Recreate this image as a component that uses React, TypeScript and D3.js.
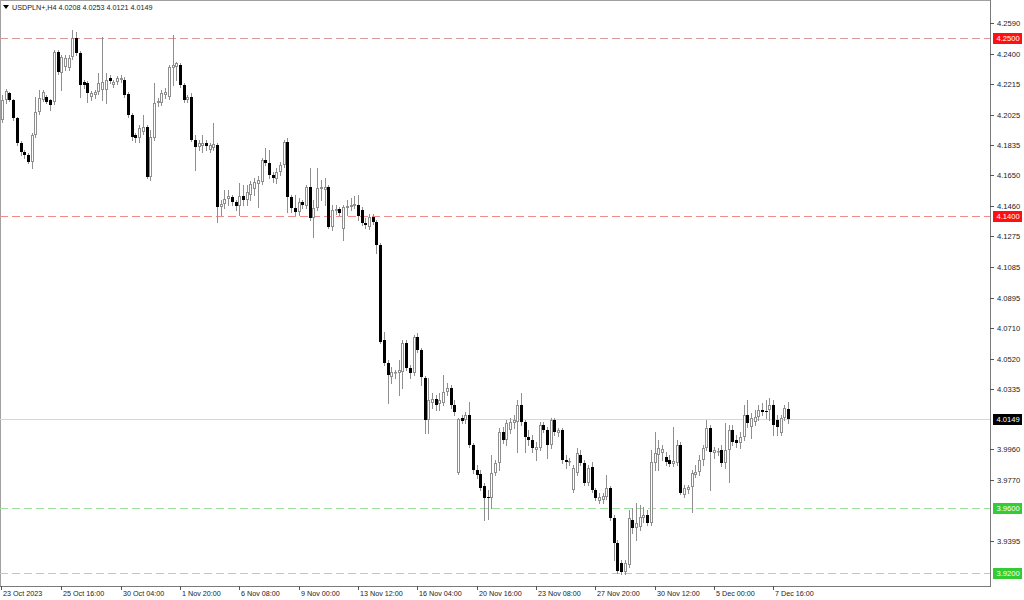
import React from "react";
import * as d3 from "d3";

const opens = [
  4.1992, 4.2115, 4.2158, 4.2115, 4.2004, 4.1850, 4.1794, 4.1776, 4.1733, 4.1899,
  4.2041, 4.2115, 4.2134, 4.2115, 4.2103, 4.2411, 4.2282, 4.2318, 4.2312, 4.2380,
  4.2497, 4.2405, 4.2226, 4.2220, 4.2134, 4.2146, 4.2164, 4.2177, 4.2177, 4.2251,
  4.2208, 4.2226, 4.2238, 4.2238, 4.2152, 4.2022, 4.1899, 4.1880, 4.1918, 4.1949,
  4.1640, 4.1880, 4.2096, 4.2096, 4.2146, 4.2134, 4.2312, 4.2318, 4.2331, 4.2208,
  4.2115, 4.2134, 4.1868, 4.1825, 4.1831, 4.1850, 4.1807, 4.1819, 4.1837, 4.1455,
  4.1473, 4.1504, 4.1517, 4.1486, 4.1461, 4.1523, 4.1498, 4.1529, 4.1566, 4.1597,
  4.1609, 4.1745, 4.1727, 4.1652, 4.1628, 4.1671, 4.1714, 4.1856, 4.1517, 4.1449,
  4.1424, 4.1486, 4.1461, 4.1578, 4.1387, 4.1449, 4.1566, 4.1560, 4.1578, 4.1331,
  4.1430, 4.1443, 4.1319, 4.1449, 4.1455, 4.1461, 4.1467, 4.1436, 4.1356, 4.1331,
  4.1393, 4.1362, 4.1220, 4.0635, 4.0492, 4.0406, 4.0431, 4.0431, 4.0437, 4.0616,
  4.0462, 4.0431, 4.0653, 4.0573, 4.0400, 4.0141, 4.0245, 4.0270, 4.0239, 4.0245,
  4.0314, 4.0338, 4.0233, 3.9814, 4.0153, 4.0141, 4.0172, 3.9987, 3.9833, 3.9808,
  3.9734, 3.9666, 3.9660, 3.9814, 3.9876, 4.0067, 4.0018, 4.0079, 4.0122, 4.0128,
  4.0233, 4.0128, 4.0036, 4.0018, 3.9956, 3.9968, 4.0110, 4.0079, 3.9987, 4.0141,
  4.0060, 4.0079, 3.9894, 3.9882, 3.9709, 3.9814, 3.9925, 3.9876, 3.9752, 3.9851,
  3.9709, 3.9641, 3.9647, 3.9666, 3.9722, 3.9536, 3.9382, 3.9259, 3.9203, 3.9246,
  3.9524, 3.9475, 3.9481, 3.9536, 3.9555, 3.9505, 3.9876, 3.9925, 3.9937, 3.9913,
  3.9894, 3.9870, 3.9876, 3.9987, 3.9678, 3.9709, 3.9728, 3.9802, 3.9820, 3.9894,
  3.9968, 4.0091, 3.9937, 3.9944, 3.9956, 3.9876, 3.9956, 4.0079, 4.0018, 3.9999,
  4.0036, 4.0172, 4.0097, 4.0128, 4.0159, 4.0203, 4.0196, 4.0203, 4.0233, 4.0141,
  4.0060, 4.0153, 4.0208,
];

const highs = [
  4.2146, 4.2183, 4.2164, 4.2121, 4.2010, 4.1862, 4.1807, 4.1788, 4.1911, 4.2134,
  4.2177, 4.2177, 4.2146, 4.2121, 4.2423, 4.2423, 4.2393, 4.2393, 4.2393, 4.2547,
  4.2534, 4.2417, 4.2238, 4.2232, 4.2171, 4.2177, 4.2282, 4.2504, 4.2282, 4.2269,
  4.2238, 4.2263, 4.2269, 4.2257, 4.2164, 4.2035, 4.1911, 4.1961, 4.2022, 4.1961,
  4.1930, 4.2220, 4.2127, 4.2177, 4.2189, 4.2331, 4.2516, 4.2349, 4.2343, 4.2220,
  4.2146, 4.2158, 4.1899, 4.1868, 4.1899, 4.1868, 4.1850, 4.1973, 4.1850, 4.1498,
  4.1560, 4.1560, 4.1529, 4.1498, 4.1603, 4.1591, 4.1591, 4.1615, 4.1634, 4.1646,
  4.1757, 4.1819, 4.1807, 4.1671, 4.1696, 4.1733, 4.1868, 4.1880, 4.1529, 4.1529,
  4.1510, 4.1498, 4.1591, 4.1696, 4.1498, 4.1696, 4.1621, 4.1634, 4.1591, 4.1467,
  4.1467, 4.1455, 4.1467, 4.1498, 4.1510, 4.1523, 4.1529, 4.1455, 4.1387, 4.1412,
  4.1412, 4.1375, 4.1233, 4.0684, 4.0511, 4.0468, 4.0449, 4.0511, 4.0635, 4.0635,
  4.0480, 4.0665, 4.0678, 4.0585, 4.0412, 4.0400, 4.0307, 4.0295, 4.0307, 4.0419,
  4.0369, 4.0357, 4.0264, 4.0153, 4.0172, 4.0190, 4.0252, 3.9999, 3.9863, 3.9833,
  3.9752, 3.9709, 3.9925, 3.9894, 4.0091, 4.0097, 4.0141, 4.0153, 4.0172, 4.0264,
  4.0307, 4.0141, 4.0079, 4.0048, 4.0005, 4.0128, 4.0128, 4.0097, 4.0153, 4.0153,
  4.0091, 4.0091, 3.9925, 3.9907, 3.9863, 3.9968, 3.9956, 3.9894, 3.9863, 3.9882,
  3.9722, 3.9690, 3.9690, 3.9802, 3.9734, 3.9555, 3.9401, 3.9277, 3.9277, 3.9586,
  3.9598, 3.9629, 3.9617, 3.9604, 3.9586, 3.9956, 4.0067, 4.0018, 3.9987, 3.9944,
  3.9925, 4.0097, 4.0018, 4.0005, 3.9740, 3.9740, 3.9833, 3.9863, 3.9925, 3.9987,
  4.0141, 4.0110, 3.9974, 3.9968, 3.9987, 4.0122, 4.0110, 4.0110, 4.0048, 4.0067,
  4.0233, 4.0264, 4.0184, 4.0203, 4.0233, 4.0245, 4.0264, 4.0276, 4.0264, 4.0172,
  4.0172, 4.0233, 4.0253,
];

const lows = [
  4.1980, 4.2096, 4.2109, 4.1992, 4.1837, 4.1776, 4.1757, 4.1727, 4.1696, 4.1886,
  4.2029, 4.2109, 4.2096, 4.2053, 4.2090, 4.2275, 4.2177, 4.2300, 4.2300, 4.2368,
  4.2393, 4.2134, 4.2189, 4.2103, 4.2115, 4.2127, 4.2152, 4.2115, 4.2096, 4.2220,
  4.2195, 4.2214, 4.2226, 4.2134, 4.2010, 4.1868, 4.1856, 4.1856, 4.1905, 4.1634,
  4.1621, 4.1868, 4.2078, 4.2084, 4.2127, 4.2121, 4.2208, 4.2238, 4.2195, 4.2103,
  4.2103, 4.1862, 4.1683, 4.1807, 4.1794, 4.1807, 4.1794, 4.1807, 4.1362, 4.1405,
  4.1449, 4.1467, 4.1467, 4.1436, 4.1405, 4.1467, 4.1467, 4.1498, 4.1529, 4.1455,
  4.1597, 4.1714, 4.1634, 4.1609, 4.1603, 4.1652, 4.1702, 4.1424, 4.1424, 4.1405,
  4.1405, 4.1449, 4.1449, 4.1375, 4.1270, 4.1436, 4.1498, 4.1467, 4.1325, 4.1313,
  4.1412, 4.1405, 4.1251, 4.1405, 4.1436, 4.1449, 4.1375, 4.1344, 4.1325, 4.1319,
  4.1350, 4.1171, 4.0616, 4.0480, 4.0245, 4.0369, 4.0400, 4.0295, 4.0338, 4.0449,
  4.0400, 4.0419, 4.0560, 4.0357, 4.0060, 4.0060, 4.0215, 4.0203, 4.0203, 4.0233,
  4.0295, 4.0215, 4.0172, 3.9808, 4.0122, 4.0122, 3.9974, 3.9814, 3.9783, 3.9709,
  3.9524, 3.9530, 3.9598, 3.9802, 3.9833, 3.9999, 3.9987, 4.0060, 4.0091, 3.9944,
  4.0110, 3.9944, 3.9987, 3.9944, 3.9894, 3.9956, 4.0067, 3.9907, 3.9968, 4.0048,
  4.0042, 3.9876, 3.9845, 3.9863, 3.9697, 3.9802, 3.9863, 3.9740, 3.9740, 3.9697,
  3.9647, 3.9629, 3.9629, 3.9654, 3.9524, 3.9277, 3.9197, 3.9191, 3.9191, 3.9234,
  3.9443, 3.9401, 3.9462, 3.9511, 3.9493, 3.9493, 3.9833, 3.9833, 3.9894, 3.9863,
  3.9857, 3.9857, 3.9863, 3.9684, 3.9666, 3.9690, 3.9573, 3.9789, 3.9802, 3.9863,
  3.9956, 3.9709, 3.9907, 3.9925, 3.9857, 3.9845, 3.9758, 3.9987, 3.9974, 3.9968,
  4.0018, 4.0097, 4.0030, 4.0110, 4.0141, 4.0172, 4.0153, 4.0141, 4.0048, 4.0048,
  4.0048, 4.0141, 4.0121,
];

const closes = [
  4.2115, 4.2171, 4.2115, 4.2004, 4.1850, 4.1794, 4.1776, 4.1733, 4.1899, 4.2041,
  4.2127, 4.2164, 4.2103, 4.2084, 4.2411, 4.2288, 4.2380, 4.2374, 4.2374, 4.2497,
  4.2405, 4.2208, 4.2208, 4.2158, 4.2158, 4.2164, 4.2220, 4.2226, 4.2238, 4.2232,
  4.2226, 4.2251, 4.2251, 4.2146, 4.2022, 4.1886, 4.1880, 4.1942, 4.1949, 4.1640,
  4.1886, 4.2096, 4.2109, 4.2158, 4.2164, 4.2318, 4.2331, 4.2343, 4.2208, 4.2115,
  4.2134, 4.1868, 4.1825, 4.1850, 4.1850, 4.1831, 4.1837, 4.1843, 4.1455, 4.1473,
  4.1504, 4.1523, 4.1486, 4.1461, 4.1523, 4.1498, 4.1547, 4.1597, 4.1609, 4.1621,
  4.1745, 4.1727, 4.1652, 4.1634, 4.1671, 4.1714, 4.1856, 4.1517, 4.1449, 4.1424,
  4.1486, 4.1467, 4.1578, 4.1387, 4.1449, 4.1572, 4.1578, 4.1578, 4.1331, 4.1436,
  4.1443, 4.1418, 4.1455, 4.1461, 4.1467, 4.1473, 4.1399, 4.1356, 4.1344, 4.1393,
  4.1362, 4.1220, 4.0622, 4.0493, 4.0419, 4.0437, 4.0437, 4.0449, 4.0616, 4.0462,
  4.0431, 4.0653, 4.0573, 4.0406, 4.0141, 4.0264, 4.0270, 4.0233, 4.0264, 4.0314,
  4.0338, 4.0233, 4.0190, 4.0147, 4.0135, 4.0172, 3.9987, 3.9833, 3.9802, 3.9722,
  3.9660, 3.9660, 3.9814, 3.9876, 4.0067, 4.0018, 4.0122, 4.0128, 4.0141, 4.0233,
  4.0128, 4.0036, 4.0018, 3.9968, 3.9974, 4.0110, 4.0079, 3.9987, 4.0141, 4.0067,
  4.0079, 3.9894, 3.9882, 3.9888, 3.9845, 3.9937, 3.9876, 3.9752, 3.9845, 3.9709,
  3.9660, 3.9666, 3.9672, 3.9722, 3.9536, 3.9382, 3.9209, 3.9203, 3.9259, 3.9536,
  3.9475, 3.9505, 3.9542, 3.9555, 3.9505, 3.9882, 3.9937, 3.9968, 3.9962, 3.9882,
  3.9870, 3.9888, 3.9987, 3.9690, 3.9722, 3.9728, 3.9814, 3.9820, 3.9894, 3.9968,
  4.0091, 3.9944, 3.9956, 3.9950, 3.9876, 3.9956, 4.0079, 4.0005, 3.9999, 4.0036,
  4.0172, 4.0122, 4.0153, 4.0159, 4.0203, 4.0190, 4.0190, 4.0233, 4.0110, 4.0097,
  4.0153, 4.0215, 4.0149,
];

const priceTicks = [
  4.259, 4.24, 4.2215, 4.2025, 4.1835, 4.165, 4.146, 4.1275, 4.1085, 4.0895,
  4.071, 4.052, 4.0335, 3.996, 3.977, 3.9395,
];

const timeLabels = [
  "23 Oct 2023", "25 Oct 16:00", "30 Oct 04:00", "1 Nov 20:00", "6 Nov 08:00",
  "9 Nov 00:00", "13 Nov 12:00", "16 Nov 04:00", "20 Nov 16:00", "23 Nov 08:00",
  "27 Nov 20:00", "30 Nov 12:00", "5 Dec 00:00", "7 Dec 16:00",
];
const timeLabelBars = [0, 16, 32, 48, 64, 80, 96, 112, 128, 144, 160, 176, 192, 208];

const levelPrices = [4.25, 4.14, 3.96, 3.92];
const levelLine = ["#d99a9a", "#f08c8c", "#9ee09e", "#9ee09e"];
const levelFill = ["#ff1010", "#ff1010", "#33cc33", "#33cc33"];

const symbol = "USDPLN+,H4";
const currentPrice = 4.0149;

const W = 1024;
const H = 600;
const PLOT_R = 990;
const PLOT_B = 586;
const FONT = "'Liberation Sans', Arial, sans-serif";

export default function App() {
  const n = closes.length;
  const x = d3.scaleLinear().domain([0, n - 1]).range([2, 788]);
  const y = d3.scaleLinear().domain([3.9395, 4.259]).range([541, 23]);
  const fmt = d3.format(".4f");

  const candles = d3.range(n).map((i) => {
    const cx = Math.round(x(i));
    const o = opens[i];
    const c = closes[i];
    const up = c >= o;
    const yTop = Math.round(y(Math.max(o, c)));
    const yBot = Math.round(y(Math.min(o, c)));
    const hgt = Math.max(1, yBot - yTop);
    return (
      <g key={i}>
        <line
          x1={cx + 0.5}
          x2={cx + 0.5}
          y1={Math.round(y(highs[i]))}
          y2={Math.round(y(lows[i])) + 1}
          stroke="#8f8f8f"
          strokeWidth={1}
        />
        {up ? (
          <rect
            x={cx - 0.5}
            y={yTop + 0.5}
            width={2}
            height={Math.max(0.5, hgt - 1)}
            fill="#ffffff"
            stroke="#8f8f8f"
            strokeWidth={1}
          />
        ) : (
          <rect x={cx - 1} y={yTop} width={3} height={hgt} fill="#000000" />
        )}
      </g>
    );
  });

  return (
    <svg
      width={W}
      height={H}
      style={{ position: "absolute", left: 0, top: 0, background: "#ffffff" }}
      fontFamily={FONT}
    >
      <rect x={0} y={0} width={W} height={H} fill="#ffffff" />
      {/* frame */}
      <line x1={0.5} x2={0.5} y1={0} y2={PLOT_B} stroke="#a0a0a0" />
      <line x1={0} x2={PLOT_R} y1={0.5} y2={0.5} stroke="#a0a0a0" />

      {/* current price line */}
      <line
        x1={0}
        x2={PLOT_R}
        y1={Math.round(y(currentPrice)) + 0.5}
        y2={Math.round(y(currentPrice)) + 0.5}
        stroke="#d6d6d6"
      />

      {/* level lines */}
      {levelPrices.map((p, k) => (
        <line
          key={"lv" + k}
          x1={0}
          x2={PLOT_R}
          y1={Math.round(y(p)) + 0.5}
          y2={Math.round(y(p)) + 0.5}
          stroke={levelLine[k]}
          strokeDasharray="8,4"
        />
      ))}

      {candles}

      {/* header */}
      <path d="M3,5 L9,5 L6,9 Z" fill="#000" />
      <text x={12} y={10} fontSize={7.2} fill="#222">
        {symbol + "  " + [opens[n - 1], highs[n - 1], lows[n - 1], closes[n - 1]].map(fmt).join(" ")}
      </text>

      {/* axes lines */}
      <line x1={PLOT_R + 0.5} x2={PLOT_R + 0.5} y1={0} y2={PLOT_B + 1} stroke="#7a7a7a" />
      <line x1={0} x2={PLOT_R + 1} y1={PLOT_B + 0.5} y2={PLOT_B + 0.5} stroke="#7a7a7a" />

      {/* price ticks */}
      {priceTicks.map((p, k) => {
        const py = Math.round(y(p)) + 0.5;
        return (
          <g key={"pt" + k}>
            <line x1={PLOT_R} x2={PLOT_R + 4} y1={py} y2={py} stroke="#555" />
            <text x={997} y={py + 2.6} fontSize={7.6} fill="#222">
              {fmt(p)}
            </text>
          </g>
        );
      })}

      {/* level labels */}
      {levelPrices.map((p, k) => {
        const py = Math.round(y(p));
        return (
          <g key={"ll" + k}>
            <rect x={993} y={py - 5} width={29} height={11} fill={levelFill[k]} />
            <text x={996.5} y={py + 3} fontSize={7.6} fill="#ffffff">
              {fmt(p)}
            </text>
          </g>
        );
      })}

      {/* current price label */}
      {(() => {
        const py = Math.round(y(currentPrice));
        return (
          <g>
            <rect x={993} y={py - 5} width={29} height={11} fill="#000000" />
            <text x={996.5} y={py + 3} fontSize={7.6} fill="#ffffff">
              {fmt(currentPrice)}
            </text>
          </g>
        );
      })()}

      {/* time labels */}
      {timeLabels.map((t, k) => {
        const tx = Math.round(x(timeLabelBars[k])) - (k === 0 ? 1 : 0) + 0.5;
        return (
          <g key={"tl" + k}>
            <line x1={tx} x2={tx} y1={PLOT_B} y2={PLOT_B + 4} stroke="#555" />
            <text x={tx + 1.5} y={596} fontSize={7.2} fill="#222">
              {t}
            </text>
          </g>
        );
      })}
    </svg>
  );
}
